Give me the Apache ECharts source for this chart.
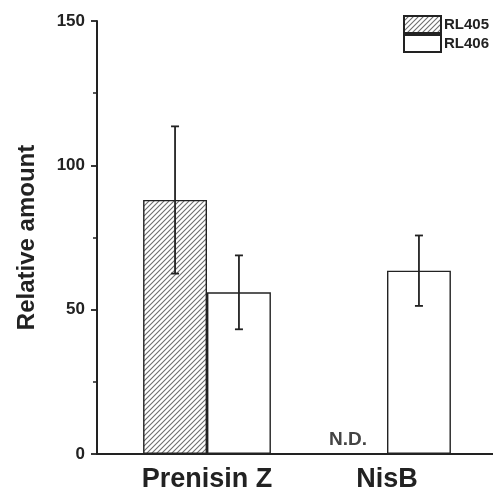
<!DOCTYPE html>
<html><head><meta charset="utf-8">
<script src="https://cdn.jsdelivr.net/npm/echarts@6/dist/echarts.min.js"></script>
<style>html,body{margin:0;padding:0;background:#fff}#c{width:493px;height:498px}</style>
</head><body><div id="c"></div>
<script>
const categories = ['Prenisin Z', 'NisB'];
const seriesNames = ['RL405', 'RL406'];
const rl405Values = [88, null];
const rl405Errors = [25.5, null];
const rl406Values = [56, 63.5];
const rl406Errors = [12.8, 12.2];
const yMin = 0, yMax = 150, yInterval = 50;
const yAxisName = 'Relative amount';
const ndLabel = 'N.D.';

function hatchCanvas() {
  const s = 5;
  const c = document.createElement('canvas');
  c.width = s; c.height = s;
  const g = c.getContext('2d');
  g.fillStyle = '#fff'; g.fillRect(0, 0, s, s);
  g.strokeStyle = '#6e6e6e'; g.lineWidth = 1.1;
  g.beginPath();
  g.moveTo(0, s); g.lineTo(s, 0);
  g.moveTo(-1, 1); g.lineTo(1, -1);
  g.moveTo(s - 1, s + 1); g.lineTo(s + 1, s - 1);
  g.stroke();
  return c;
}
const hatch = { image: hatchCanvas(), repeat: 'repeat' };
const font = '"Liberation Sans", Arial, sans-serif';
const barHalf = 0.355 / 2;

function errSeries(name, vals, errs, sign) {
  const data = [];
  vals.forEach((v, i) => { if (v != null && errs[i] != null) data.push([i, v, errs[i]]); });
  return {
    type: 'custom', name: name + ' err', xAxisIndex: 0, yAxisIndex: 0, z: 5,
    data: data,
    renderItem: function (params, api) {
      const i = api.value(0), v = api.value(1), e = api.value(2);
      const band = api.size([1, 0])[0];
      const off = sign * band * barHalf;
      const t = api.coord([i, v + e]);
      const b = api.coord([i, v - e]);
      const x = t[0] + off, cap = 4;
      const st = { stroke: '#222', lineWidth: 1.8 };
      return { type: 'group', children: [
        { type: 'line', shape: { x1: x, y1: t[1], x2: x, y2: b[1] }, style: st },
        { type: 'line', shape: { x1: x - cap, y1: t[1], x2: x + cap, y2: t[1] }, style: st },
        { type: 'line', shape: { x1: x - cap, y1: b[1], x2: x + cap, y2: b[1] }, style: st }
      ]};
    }
  };
}

const rl405Data = rl405Values.map(v => v == null ? {
  value: 0, itemStyle: { borderWidth: 0 },
  label: { show: true, position: 'top', distance: 5, offset: [-7, 0], formatter: ndLabel,
    fontFamily: font, fontWeight: 'bold', fontSize: 19, color: '#444' }
} : v);

const chart = echarts.init(document.getElementById('c'));
chart.setOption({
  animation: false,
  backgroundColor: '#fff',
  grid: [
    { left: 117, right: 16, top: 21, bottom: 44 },
    { left: 97, right: 0, top: 21, bottom: 44 }
  ],
  legend: {
    orient: 'vertical', left: 403, top: 15, itemWidth: 37, itemHeight: 17, itemGap: 0,
    padding: 0, icon: 'rect',
    textStyle: { fontFamily: font, fontWeight: 'bold', fontSize: 15, color: '#222', padding: [0, 0, 0, -2] },
    data: seriesNames
  },
  xAxis: [
    { type: 'category', gridIndex: 0, data: categories,
      axisLine: { show: false }, axisTick: { show: false },
      axisLabel: { fontFamily: font, fontWeight: 'bold', fontSize: 27, color: '#222', margin: 12 } },
    { type: 'value', gridIndex: 1, min: 0, max: 1,
      axisLine: { show: true, lineStyle: { color: '#222', width: 2 } },
      axisTick: { show: false }, axisLabel: { show: false }, splitLine: { show: false } }
  ],
  yAxis: [
    { type: 'value', gridIndex: 0, min: yMin, max: yMax, interval: yInterval, offset: 20,
      name: yAxisName, nameLocation: 'middle', nameGap: 58,
      nameTextStyle: { fontFamily: font, fontWeight: 'bold', fontSize: 24, color: '#222' },
      axisLine: { show: true, lineStyle: { color: '#222', width: 2 } },
      axisTick: { show: true, inside: false, length: 6, lineStyle: { color: '#222', width: 1.8 } },
      minorTick: { show: true, splitNumber: 2, length: 4, lineStyle: { color: '#222', width: 1.5 } },
      axisLabel: { fontFamily: font, fontWeight: 'bold', fontSize: 17, color: '#222', margin: 12 },
      splitLine: { show: false } },
    { type: 'value', gridIndex: 1, show: false, min: 0, max: 1 }
  ],
  series: [
    { type: 'bar', name: seriesNames[0], xAxisIndex: 0, yAxisIndex: 0, data: rl405Data,
      barWidth: '35.5%', barGap: '0%',
      itemStyle: { color: hatch, borderColor: '#222', borderWidth: 1.4 } },
    { type: 'bar', name: seriesNames[1], xAxisIndex: 0, yAxisIndex: 0, data: rl406Values,
      barWidth: '35.5%', barGap: '0%',
      itemStyle: { color: '#fff', borderColor: '#222', borderWidth: 1.4 } },
    errSeries(seriesNames[0], rl405Values, rl405Errors, -1),
    errSeries(seriesNames[1], rl406Values, rl406Errors, 1)
  ]
});
</script></body></html>
